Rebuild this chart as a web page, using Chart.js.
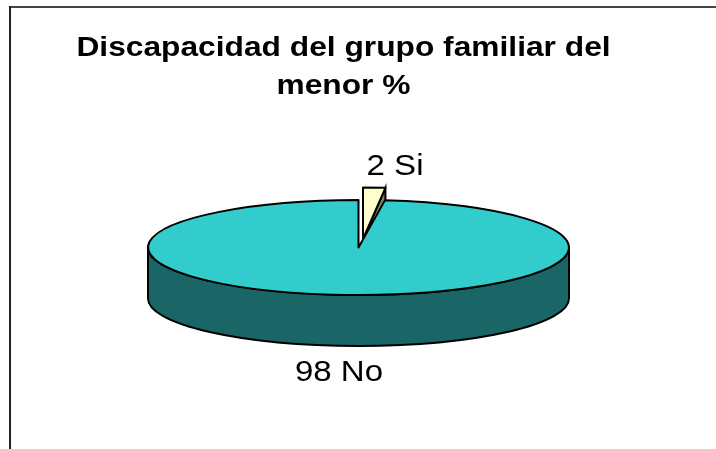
<!DOCTYPE html>
<html><head><meta charset="utf-8">
<style>html,body{margin:0;padding:0;background:#fff}canvas{display:block}</style>
<script src="https://cdn.jsdelivr.net/npm/chart.js@4"></script>
</head><body>
<canvas id="c" width="716" height="449"></canvas>
<script>
const categories = ['Si', 'No'];
const values = [2, 98];
const sliceColors = ['#FFFFCC', '#33CCCC'];
const titleLines = ['Discapacidad del grupo familiar del', 'menor %'];

const FONT = '"Liberation Sans", Arial, sans-serif';
const pie = {cx: 358.5, cy: 247.5, sy: 0.2257, depth: 51, wall: '#1A6666', line: '#000', lw: 2};
const burst = {cx: 363, cy: 239, sx: 0.85, sy: 0.245, wall: '#808066'};
const labelAt = [{x: 395, y: 175}, {x: 339, y: 381}];
const textStretch = 1.14;
const titleStretch = 1.133, titleCentre = 343.5;

function place(ctx, arc, cx, cy, sx, sy) {
  ctx.translate(cx, cy); ctx.scale(sx, sy); ctx.translate(-arc.x, -arc.y);
}
function outline(ctx, arc, cx, cy, sx, sy) {
  ctx.save();
  place(ctx, arc, cx, cy, sx, sy);
  ctx.beginPath();
  ctx.moveTo(arc.x, arc.y);
  ctx.arc(arc.x, arc.y, arc.outerRadius, arc.startAngle, arc.endAngle);
  ctx.closePath();
  ctx.restore();
  ctx.strokeStyle = pie.line; ctx.lineWidth = pie.lw; ctx.lineJoin = 'round';
  ctx.stroke();
}
const pie3d = {
  id: 'pie3d',
  beforeDraw(chart) {
    const ctx = chart.ctx;
    ctx.save();
    ctx.fillStyle = '#fff'; ctx.fillRect(0, 0, 716, 449);
    ctx.fillStyle = '#444'; ctx.fillRect(9, 6, 707, 2);
    ctx.fillStyle = '#222'; ctx.fillRect(9, 6, 2, 443);
    ctx.restore();
    ctx.save();
    ctx.translate(titleCentre, 0); ctx.scale(titleStretch, 1); ctx.translate(-chart.width / 2, 0);
  },
  beforeDatasetsDraw(chart) { chart.ctx.restore(); },
  beforeDatasetDraw(chart, args) {
    const ctx = chart.ctx, arcs = chart.getDatasetMeta(args.index).data;
    const small = arcs[0], big = arcs[1];
    const rx = big.outerRadius, ry = rx * pie.sy;
    // side wall of the large slice
    ctx.save();
    ctx.beginPath();
    ctx.ellipse(pie.cx, pie.cy, rx, ry, 0, 0, Math.PI);
    ctx.ellipse(pie.cx, pie.cy + pie.depth, rx, ry, 0, Math.PI, 0, true);
    ctx.closePath();
    ctx.fillStyle = pie.wall; ctx.fill();
    ctx.strokeStyle = pie.line; ctx.lineWidth = pie.lw; ctx.stroke();
    // cut face of the pulled-out slice
    const ex = burst.cx + small.outerRadius * Math.sin(small.endAngle + Math.PI / 2) * burst.sx;
    const ey = burst.cy - small.outerRadius * Math.cos(small.endAngle + Math.PI / 2) * burst.sy;
    ctx.beginPath();
    ctx.moveTo(burst.cx, burst.cy); ctx.lineTo(ex, ey);
    ctx.lineTo(ex, ey + pie.depth); ctx.lineTo(burst.cx, burst.cy + pie.depth); ctx.closePath();
    ctx.fillStyle = burst.wall; ctx.fill();
    ctx.stroke();
    ctx.restore();
    // pulled-out slice
    ctx.save(); place(ctx, small, burst.cx, burst.cy, burst.sx, burst.sy); small.draw(ctx); ctx.restore();
    outline(ctx, small, burst.cx, burst.cy, burst.sx, burst.sy);
    // main slice
    ctx.save(); place(ctx, big, pie.cx, pie.cy, 1, pie.sy); big.draw(ctx); ctx.restore();
    outline(ctx, big, pie.cx, pie.cy, 1, pie.sy);
    return false;
  },
  afterDraw(chart) {
    const ctx = chart.ctx;
    ctx.save();
    ctx.fillStyle = '#000'; ctx.font = '29px ' + FONT;
    ctx.textAlign = 'center'; ctx.textBaseline = 'alphabetic';
    categories.forEach((name, i) => {
      ctx.save();
      ctx.translate(labelAt[i].x, labelAt[i].y); ctx.scale(textStretch, 1);
      ctx.fillText(values[i] + ' ' + name, 0, 0);
      ctx.restore();
    });
    ctx.restore();
  }
};
new Chart(document.getElementById('c'), {
  type: 'pie',
  data: {labels: categories, datasets: [{
    data: values, backgroundColor: sliceColors, borderWidth: 0, radius: 210.5
  }]},
  options: {
    responsive: false, animation: false, events: [],
    layout: {padding: 0},
    plugins: {
      legend: {display: false}, tooltip: {enabled: false},
      title: {display: true, text: titleLines, color: '#000',
        font: {family: FONT, size: 28, weight: 'bold', lineHeight: 1.36},
        padding: {top: 29, bottom: 0}}
    }
  },
  plugins: [pie3d]
});
</script>
</body></html>
